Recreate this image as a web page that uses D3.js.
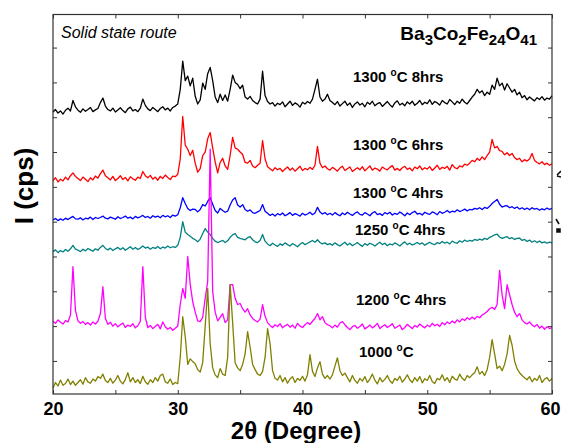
<!DOCTYPE html>
<html>
<head>
<meta charset="utf-8">
<script src="https://cdn.jsdelivr.net/npm/d3@7"></script>
<style>
body{margin:0;background:#fff;}
svg{display:block;font-family:Arial,"Liberation Sans",sans-serif;}
</style>
</head>
<body>
<svg id="chart" width="561" height="443"></svg>
<script>
// scan: 20 -> 60 deg, 0.2 deg step (201 points per pattern)
const scanStart = 20, scanStep = 0.2, scanPoints = 201;
const xTicks = [20, 25, 30, 35, 40, 45, 50, 55, 60];
const yTicks = [100, 200, 300, 400, 500, 600, 700, 800, 900, 1000];

const seriesNames = ['1300_8h', '1300_6h', '1300_4h', '1250_4h', '1200_4h', '1000'];
const seriesColors = ['#000000', '#ff0000', '#0000ff', '#008080', '#ff00ff', '#808000'];

// stacked intensities (cps, offsets already in)
const s1300_8h = [
  815, 822, 812, 818, 809, 820, 826, 818, 848, 830,
  820, 814, 824, 817, 822, 828, 816, 821, 825, 842, 855, 832,
  822, 818, 826, 815, 821, 827, 819, 813, 824, 829, 818, 822, 816, 826, 852, 834,
  824, 819, 828, 822, 816, 825, 830, 821, 826, 818, 828, 832,
  838, 880, 961, 905, 918, 890, 912, 860, 838, 850, 898, 880, 925, 943, 905, 858, 842, 866,
  848, 864, 846, 880, 921, 900, 894, 882, 892, 858, 852, 860, 848, 842, 838, 852, 932, 862,
  845, 838, 842, 832, 840, 836, 844, 830, 838, 846, 834, 841, 837, 829, 843, 838, 845,
  840, 852, 880, 909, 858, 846, 852, 866, 848,
  842, 836, 845, 832, 839, 846, 834, 841, 828, 838, 844, 835, 840, 830, 843, 837, 846, 833, 839, 842,
  831, 838, 845, 836, 829, 841, 847, 835, 840, 833, 844, 838, 846, 834, 840, 848, 836, 843, 839, 850,
  837, 845, 841, 835, 848, 842, 838, 851, 844, 836, 846, 840, 852, 843, 838, 848,
  858, 866, 880, 870, 876, 862, 872, 866, 892, 880, 912, 890, 898, 878, 896, 884, 872, 880, 864, 872, 856, 862,
  850, 858, 852, 847, 856, 851, 859, 849, 855, 852, 862
];
const s1300_6h = [
  618, 626, 614, 622, 617, 628, 620, 632, 640, 630,
  624, 618, 628, 622, 615, 626, 620, 631, 625, 638, 648, 632,
  626, 620, 630, 618, 624, 632, 621, 627, 617, 629, 623, 619, 628, 624, 644, 632,
  626, 633, 622, 628, 619, 630, 624, 634, 627, 621, 631, 629,
  636, 680, 802, 720, 708, 690, 705, 668, 642, 652, 690, 700, 738, 756, 712, 672, 640, 670,
  682, 660, 650, 690, 742, 712, 708, 700, 693, 670, 668, 676, 660, 655, 662, 668, 733, 680,
  658, 652, 646, 655, 649, 653, 644, 651, 657, 648, 654, 645, 652, 659, 647, 653, 649, 656, 650, 662,
  716, 668, 655, 660, 652,
  648, 656, 651, 645, 654, 659, 647, 652, 657, 644, 650, 655, 649, 658, 646, 653, 660, 648, 654, 651,
  645, 657, 652, 649, 656, 661, 648, 653, 647, 655, 659, 650, 654, 646, 657, 652, 660, 649, 655, 651,
  658, 647, 654, 662, 650, 656, 653, 659, 648, 664, 655, 652, 660, 657, 665, 662, 668,
  676, 672, 682, 676, 686, 678, 690, 700, 736, 712, 716, 704, 702, 692, 698, 690, 696, 684, 678, 682,
  672, 678, 674, 680, 696, 676, 670, 666, 672, 664, 668, 662, 666
];
const s1300_4h = [
  505, 509, 503, 508, 504, 510, 506, 511, 515, 508,
  507, 511, 505, 510, 508, 513, 506, 512, 509, 512, 516, 510,
  508, 513, 510, 507, 514, 509, 512, 516, 510, 513, 508, 515, 511, 514, 518, 512,
  515, 510, 517, 513, 516, 511, 518, 514, 517, 512, 519, 516,
  520, 540, 569, 552, 538, 532, 536, 535, 528, 535, 549, 545, 558, 569, 550, 532, 525, 538,
  532, 527, 530, 548, 562, 569, 548, 542, 549, 535, 530, 534, 526, 524, 528, 532, 549, 530,
  524, 518, 522, 516, 523, 519, 525, 517, 521, 526, 518, 523, 520, 516, 524, 519, 522, 527, 520, 525,
  541, 528, 522, 526, 520,
  524, 519, 526, 521, 517, 525, 520, 527, 522, 518, 524, 528, 521, 519, 526, 522, 517, 525, 529, 520,
  523, 518, 526, 522, 527, 519, 524, 521, 528, 523, 517, 525, 520, 526, 530, 522, 524, 519, 527, 523,
  521, 528, 525, 520, 529, 524, 527, 532, 526, 530, 528, 534, 529, 532, 536, 531, 535,
  534, 538, 536, 540, 535, 541, 538, 544, 552, 558, 564, 550, 542, 545, 546, 540, 543, 538, 542, 536,
  540, 535, 539, 534, 540, 536, 538, 533, 537, 534, 539, 535, 538
];
const s1250_4h = [
  414, 419, 411, 417, 413, 420, 415, 422, 432, 421,
  418, 414, 421, 416, 423, 419, 415, 422, 418, 426, 432, 423,
  419, 424, 417, 422, 426, 420, 425, 418, 423, 428, 421, 426, 420, 424, 430, 424,
  427, 421, 426, 423, 429, 422, 427, 424, 430, 425, 428, 426,
  432, 455, 500, 470, 463, 458, 452, 448, 442, 450, 466, 480, 470, 463, 452, 444, 440, 443,
  446, 440, 445, 455, 462, 466, 455, 452, 450, 448, 454, 457, 448, 442, 440, 446, 463, 444,
  436, 431, 438, 433, 429, 436, 432, 439, 434, 430, 437, 433, 428, 435, 440, 434, 438, 442, 446, 441,
  448, 440, 436, 439, 434,
  437, 432, 439, 434, 430, 436, 441, 433, 438, 431, 435, 440, 434, 429, 437, 432, 438, 435, 430, 436,
  441, 434, 438, 431, 436, 433, 439, 435, 430, 437, 442, 434, 438, 433, 436, 440, 435, 439, 432, 437,
  441, 436, 434, 440, 437, 443, 438, 441, 436, 444, 440, 438, 445, 441, 447, 443, 446,
  444, 449, 446, 450, 447, 452, 449, 455, 458, 462, 464, 456, 452, 455, 457, 451, 454, 449, 452, 453,
  446, 449, 443, 447, 441, 445, 440, 444, 439, 442, 438, 441, 439
];
const s1200_4h = [
  214, 208, 218, 211, 206, 216, 212, 232, 371, 245,
  215, 208, 213, 205, 210, 203, 212, 206, 214, 236, 313, 222,
  205, 211, 200, 207, 198, 204, 209, 196, 203, 199, 207, 195, 201, 214, 371, 226,
  196, 202, 193, 199, 205, 192, 212, 198, 191, 196, 188, 194,
  200, 262, 308, 280, 400, 320, 270, 240, 215, 213, 225, 280, 328, 708, 300, 240, 215, 225,
  236, 210, 218, 319, 319, 280, 262, 265, 250, 240, 250, 232, 222, 216, 212, 220, 262, 228,
  210, 202, 196, 204, 199, 207, 195, 201, 205, 197, 203, 194, 208, 200, 196, 204, 210, 205, 214, 222,
  236, 218, 227, 210, 204,
  201, 195, 203, 197, 209, 213, 204, 196, 190, 198, 202, 194, 199, 206, 192, 197, 203, 195, 200, 208,
  193, 199, 204, 196, 201, 207, 194, 198, 203, 190, 196, 205, 199, 193, 202, 197, 206, 200, 195, 203,
  198, 208, 201, 205, 199, 210, 204, 212, 207, 215, 209, 218, 212, 221, 216, 224, 219,
  226, 220, 228, 224, 232, 236, 242, 250, 254, 248, 262, 360, 290, 250, 319, 290, 262, 240, 227, 236,
  218, 210, 206, 212, 203, 198, 205, 194, 200, 191, 198, 193, 196
];
const s1000 = [
  22, 38, 28, 45, 30, 35, 48, 32, 42, 30,
  38, 46, 33, 52, 40, 36, 48, 42, 55, 50, 62, 44,
  38, 50, 36, 45, 58, 42, 34, 47, 66, 40, 52, 38, 46, 35, 56, 40,
  33, 46, 38, 52, 42, 58, 62, 40, 36, 48, 32, 38,
  35, 110, 227, 170, 90, 106, 98, 92, 75, 68, 95, 200, 308, 150, 80, 60, 52, 78, 62, 58,
  110, 319, 210, 95, 80, 72, 90, 120, 184, 140, 90, 75, 62, 58, 70, 110, 193, 150, 72, 50,
  45, 58, 40, 52, 36, 48, 55, 38, 50, 44, 56, 42, 60,
  118, 70, 55, 80, 98, 62, 50, 58, 48, 60, 85, 109, 72, 58, 65,
  52, 40, 58, 44, 36, 50, 42, 55, 38, 48, 62, 45, 34, 52, 40, 47, 58, 43, 36, 50,
  44, 56, 39, 48, 60, 46, 38, 52, 42, 55, 37, 49, 44, 58, 41, 35, 50, 46, 60, 43,
  52, 38, 56, 48, 45, 62, 50, 44, 58, 52,
  60, 66, 83, 62, 70, 58, 75, 110, 161, 120, 78, 85, 72, 90, 120, 173, 145, 100, 78, 66, 58, 52,
  46, 55, 40, 50, 44, 58, 38, 48, 52, 42, 50
];
const seriesValues = [s1300_8h, s1300_6h, s1300_4h, s1250_4h, s1200_4h, s1000];

// curve labels: temperature + duration
const labelTemps = ['1300', '1300', '1300', '1250', '1200', '1000'];
const labelTimes = [' 8hrs', ' 6hrs', ' 4hrs', ' 4hrs', ' 4hrs', ''];

const chart = function(){

    const render = function(target_id){
        let svg = d3.select('#'+target_id),
            width = +svg.attr('width'),
            height = +svg.attr('height');

        let margin = {top: 14.5, right: 9, bottom: 49, left: 53};
        let left = margin.left, right = width - margin.right,
            top = margin.top, bottom = height - margin.bottom;

        let twoTheta = d3.range(scanPoints).map(function(i){ return scanStart + i*scanStep });

        let xScale = d3.scaleLinear().domain([20, 60]).range([left, right]);
        let yScale = d3.scaleLinear().domain([5, 1095]).range([bottom, top]);

        let line = d3.line()
            .x(function(d, i){ return xScale(twoTheta[i]) })
            .y(function(d){ return yScale(d) });

        svg.append('g')
            .selectAll('path')
            .data(seriesValues)
            .enter()
            .append('path')
            .attr('d', line)
            .attr('fill', 'none')
            .attr('stroke', function(d, i){ return seriesColors[i] })
            .attr('stroke-width', 1.3)
            .attr('stroke-linejoin', 'round');

        // axes, ticks pointing in
        let gx = svg.append('g')
            .attr('transform', 'translate(0,' + bottom + ')')
            .call(d3.axisBottom(xScale).tickValues(xTicks).tickSize(-4).tickPadding(8)
                .tickFormat(function(d){ return d % 10 === 0 ? d : '' }));
        let gt = svg.append('g')
            .attr('transform', 'translate(0,' + top + ')')
            .call(d3.axisTop(xScale).tickValues(xTicks).tickSize(-4).tickFormat(''));
        let gl = svg.append('g')
            .attr('transform', 'translate(' + left + ',0)')
            .call(d3.axisLeft(yScale).tickValues(yTicks).tickSize(-4).tickFormat(''));
        let gr = svg.append('g')
            .attr('transform', 'translate(' + right + ',0)')
            .call(d3.axisRight(yScale).tickValues(yTicks).tickSize(-4).tickFormat(''));

        [gx, gt, gl, gr].forEach(function(g){
            g.select('.domain').remove();
            g.selectAll('line').attr('stroke', '#333').attr('stroke-width', 1);
        });
        gx.selectAll('text')
            .attr('font-size', 18)
            .attr('font-weight', 'bold')
            .attr('font-family', 'Arial, "Liberation Sans", sans-serif')
            .attr('fill', '#000')
            .attr('dx', function(d){ return d === 60 ? -2 : 0 });

        svg.append('rect')
            .attr('x', left).attr('y', top)
            .attr('width', right - left).attr('height', bottom - top)
            .attr('fill', 'none')
            .attr('stroke', '#333')
            .attr('stroke-width', 1.2);

        // bits of the neighbouring panel showing at the right edge
        svg.append('path')
            .attr('d', 'M557,175 L561,171 M557,176 L561,177 M556,219 L559,224 M557,229 h3 v3 h-3 Z')
            .attr('stroke', '#111').attr('stroke-width', 1.6).attr('fill', '#111');

        // axis titles
        svg.append('text')
            .attr('x', 296).attr('y', 439)
            .attr('text-anchor', 'middle')
            .attr('font-size', 24).attr('font-weight', 'bold')
            .text('2\u03b8 (Degree)');

        svg.append('text')
            .attr('transform', 'translate(33,186) rotate(-90)')
            .attr('text-anchor', 'middle')
            .attr('font-size', 26).attr('font-weight', 'bold')
            .text('I (cps)');

        svg.append('text')
            .attr('x', 61).attr('y', 38)
            .attr('font-size', 16).attr('font-style', 'italic')
            .text('Solid state route');

        // Ba3Co2Fe24O41
        let formula = svg.append('text')
            .attr('x', 537).attr('y', 40)
            .attr('text-anchor', 'end')
            .attr('font-size', 19).attr('font-weight', 'bold');
        [['Ba', 0], ['3', 1], ['Co', 0], ['2', 1], ['Fe', 0], ['24', 1], ['O', 0], ['41', 1]]
            .forEach(function(p, i, arr){
                let prev = i > 0 ? arr[i-1][1] : 0;
                let dy = (p[1] - prev) * 5;
                formula.append('tspan')
                    .attr('dy', dy)
                    .attr('font-size', p[1] ? 15 : 19)
                    .text(p[0]);
            });

        // curve labels
        let labelPos = [[353, 82], [353, 150], [353, 198], [355, 235], [356, 305], [359, 357]];
        labelTemps.forEach(function(t, i){
            let lab = svg.append('text')
                .attr('x', labelPos[i][0]).attr('y', labelPos[i][1])
                .attr('font-size', 15).attr('font-weight', 'bold');
            lab.append('tspan').text(t + ' ');
            lab.append('tspan').attr('dy', -6).attr('font-size', 10).text('o');
            lab.append('tspan').attr('dy', 6).text('C' + labelTimes[i]);
        });
    };

    return {
        render: render
    }

}();

chart.render('chart');
</script>
</body>
</html>
